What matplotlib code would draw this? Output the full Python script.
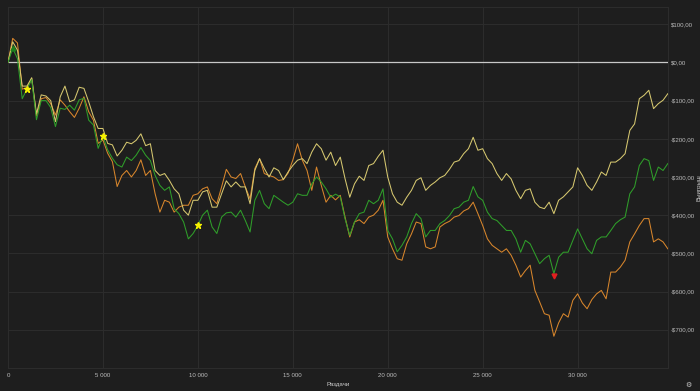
import numpy as np
import matplotlib
matplotlib.use("Agg")
from matplotlib import pyplot as plt
from matplotlib.ticker import FixedLocator

plt.rcParams["font.family"] = ["Liberation Sans Narrow", "Liberation Sans", "DejaVu Sans"]

# hands played (x axis), one sample every 250 hands
hands = np.arange(0, 34751, 250)

# winnings in $ for each line
yellow = [0, 54, 32, -62, -62, -40, -135, -85, -88, -100, -155, -90, -62, -103, -98, -65, -68, -103, -142, -173,
          -173, -212, -216, -245, -230, -209, -213, -204, -187, -218, -213, -283, -296, -291, -309, -331, -344, -387, -400, -361,
          -361, -339, -335, -379, -379, -344, -310, -326, -313, -326, -326, -370, -283, -252, -278, -300, -276, -283, -307, -287,
          -270, -256, -252, -265, -235, -213, -226, -256, -235, -270, -248, -304, -353, -318, -298, -309, -270, -265, -246, -230,
          -300, -344, -366, -374, -353, -335, -309, -302, -335, -322, -313, -302, -296, -280, -261, -257, -239, -226, -196, -230,
          -226, -252, -265, -291, -309, -291, -305, -335, -357, -335, -331, -366, -379, -383, -366, -396, -361, -352, -339, -326,
          -276, -296, -322, -335, -313, -287, -296, -261, -261, -252, -239, -178, -161, -95, -86, -73, -121, -108, -99, -82]
green = [0, 37, 10, -95, -70, -45, -150, -100, -100, -118, -168, -120, -123, -112, -125, -98, -94, -151, -164, -225,
         -193, -229, -251, -268, -274, -248, -257, -243, -223, -243, -257, -296, -322, -335, -326, -383, -396, -418, -462, -448,
         -427, -400, -387, -431, -448, -405, -394, -392, -405, -387, -414, -444, -361, -335, -370, -383, -348, -357, -366, -374,
         -366, -344, -348, -348, -318, -300, -313, -331, -353, -345, -352, -409, -453, -418, -396, -392, -361, -370, -361, -331,
         -440, -462, -496, -479, -457, -422, -396, -409, -457, -440, -440, -422, -414, -401, -383, -379, -366, -361, -325, -352,
         -361, -392, -409, -414, -427, -440, -440, -462, -497, -466, -475, -501, -527, -514, -505, -553, -510, -497, -497, -466,
         -436, -462, -488, -501, -466, -457, -457, -440, -422, -412, -405, -344, -326, -270, -252, -257, -309, -274, -283, -265]
orange = [0, 63, 51, -70, -66, -42, -140, -95, -92, -108, -138, -98, -112, -129, -144, -120, -90, -129, -151, -212,
          -203, -238, -260, -325, -296, -283, -300, -283, -255, -296, -283, -344, -392, -361, -366, -392, -379, -374, -374, -348,
          -344, -331, -326, -357, -370, -326, -280, -300, -304, -291, -326, -357, -278, -252, -291, -296, -300, -309, -307, -290,
          -256, -213, -256, -283, -335, -274, -322, -366, -348, -360, -348, -405, -457, -418, -412, -422, -405, -400, -387, -361,
          -457, -488, -514, -518, -475, -449, -418, -422, -483, -488, -483, -431, -422, -416, -405, -401, -389, -383, -366, -396,
          -427, -462, -479, -488, -497, -488, -505, -531, -562, -545, -531, -597, -627, -658, -662, -717, -682, -658, -667, -623,
          -606, -630, -645, -621, -606, -597, -619, -549, -549, -536, -518, -470, -449, -427, -409, -409, -470, -462, -470, -488]

milestones = [1000, 5000, 10000]
x_ticks = [0, 5000, 10000, 15000, 20000, 25000, 30000]
y_ticks = [-700, -600, -500, -400, -300, -200, -100, 0, 100]

bg = "#1e1e1e"
fig = plt.figure(figsize=(7, 3.91), dpi=100, facecolor=bg)
ax = fig.add_axes([0.0114, 0.059, 0.9426, 0.923], facecolor=bg)

ax.plot(hands, orange, color="#d8862c", lw=0.75, zorder=3)
ax.plot(hands, yellow, color="#d6c870", lw=0.75, zorder=4)
ax.plot(hands, green, color="#2f9e2a", lw=0.75, zorder=5)
ax.axhline(0, color="#c8c8c8", lw=0.9, zorder=2)

green = np.array(green)
imax = int(np.argmax(green))
imin = int(np.argmin(green))
ax.plot(hands[imax], green[imax], marker="^", color="#1d7f1d", ms=3.5, zorder=6)
ax.plot(hands[imin], green[imin] - 5, marker="v", color="#e02020", ms=3.5, zorder=6)
for m in milestones:
    ax.plot(m, green[hands == m][0], marker="*", color="#f5f000", ms=4.5, zorder=7)

ax.set_xlim(0, 34750)
ax.set_ylim(-800, 145)

ax.xaxis.set_major_locator(FixedLocator(x_ticks))
ax.set_xticklabels(["{:,}".format(t).replace(",", " ") for t in x_ticks])
ax.yaxis.set_major_locator(FixedLocator(y_ticks))
ax.set_yticklabels([("-" if t < 0 else "") + "${},00".format(abs(t)) for t in y_ticks])
ax.yaxis.tick_right()
ax.yaxis.set_label_position("right")

ax.grid(True, color="#2d2d2d", lw=0.7)
ax.set_axisbelow(True)
ax.tick_params(axis="x", colors="#bbbbbb", labelsize=4.4, length=0, pad=3.5)
ax.tick_params(axis="y", colors="#bbbbbb", labelsize=4.4, length=0, pad=2)
for s in ax.spines.values():
    s.set_color("#2d2d2d")
    s.set_linewidth(0.7)

ax.set_xlabel("Раздачи", color="#cccccc", fontsize=4.4, labelpad=3)
ax.set_ylabel("Выигрыш", color="#cccccc", fontsize=4.4)
ax.yaxis.set_label_coords(1.043, 0.5)
fig.text(0.984, 0.008, "\u2699", color="#cccccc", fontsize=5, ha="center", va="bottom",
         family="DejaVu Sans")

fig.savefig("out.png", dpi=100, facecolor=bg)
